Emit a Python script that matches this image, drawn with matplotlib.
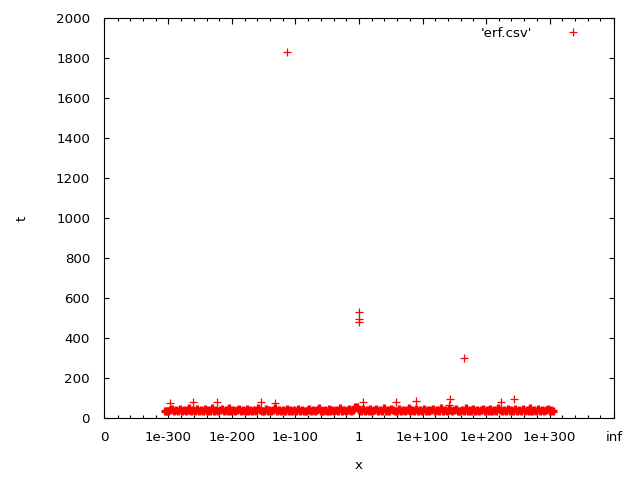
import numpy as np
import matplotlib
matplotlib.use('Agg')
import matplotlib.pyplot as plt
from matplotlib.ticker import FixedLocator

# Ось x: десятичный порядок числа (1 -> 0), края - 0 и inf
x_ticks = [-401.5, -300, -200, -100, 0, 100, 200, 300, 401.5]
x_tick_labels = ['0', '1e-300', '1e-200', '1e-100', '1', '1e+100', '1e+200', '1e+300', 'inf']
y_ticks = [0, 200, 400, 600, 800, 1000, 1200, 1400, 1600, 1800, 2000]

# Плотная полоса измерений: порядки от -306 до 306 с шагом 3
band_start = -306
band_step = 3
band_t = [
    33, 36,
    33, 38, 45, 34, 38, 33, 47, 36, 39, 33, 38, 50, 34, 38, 33, 44, 36, 39, 33, 46,
    34, 38, 33, 48, 36, 39, 33, 38, 45, 34, 38, 33, 51, 36, 39, 33, 38, 44, 34, 38,
    33, 46, 36, 39, 33, 38, 34, 49, 38, 33, 36, 44, 33, 38, 34, 38, 52, 36, 39, 33,
    38, 34, 45, 33, 38, 36, 39, 33, 47, 34, 38, 33, 36, 39, 44, 33, 38, 34, 38, 48,
    33, 36, 39, 33, 45, 34, 38, 33, 38, 36, 50, 33, 38, 34, 38, 46, 36, 39, 53, 57,
    38, 33, 45, 36, 39, 33, 47, 34, 38, 44, 33, 38, 36, 48, 33, 38, 34, 45, 38, 33,
    36, 46, 33, 38, 34, 38, 51, 36, 39, 33, 44, 34, 38, 33, 47, 36, 39, 33, 38, 45,
    34, 38, 33, 48, 36, 39, 33, 44, 38, 34, 38, 46, 33, 36, 39, 33, 50, 34, 38, 33,
    45, 36, 39, 33, 38, 47, 34, 38, 33, 44, 36, 39, 33, 49, 38, 34, 38, 33, 45, 36,
    39, 33, 46, 34, 38, 33, 44, 36, 39, 33, 48, 34, 38, 33, 45, 36, 39, 33, 38, 44,
    36, 38, 34,
]
band_x = band_start + band_step * np.arange(len(band_t))

# Отдельные выбросы
out_x = [-298, -262, -224, -154, -132, 6, 58, 89, 141, 143, 224, 244, -113, 0, 0, 0, 165]
out_t = [73, 78, 78, 78, 73, 78, 78, 85, 65, 95, 78, 95, 1830, 528, 493, 481, 300]

plt.rcParams['font.family'] = ['DejaVu Sans']
fs = 9.6

fig = plt.figure(figsize=(6.4, 4.8), dpi=100)
ax = fig.add_axes([104 / 640, 1 - 418 / 480, 510 / 640, 400 / 480])

ax.plot(band_x, band_t, '+', color='#ff0000', ms=5.2, mew=2.4, ls='none')
ax.plot(out_x, out_t, '+', color='#ff0000', ms=5.2, mew=0.9, ls='none', label="'erf.csv'")

ax.set_xlim(-401.5, 401.5)
ax.set_ylim(0, 2000)
ax.set_xticks(x_ticks)
ax.set_xticklabels(x_tick_labels)
ax.xaxis.set_minor_locator(FixedLocator([v for v in range(-380, 400, 20) if v % 100 != 0]))
ax.set_yticks(y_ticks)

ax.tick_params(which='both', direction='in', top=True, right=True, labelsize=fs,
               color='black', width=0.8)
ax.tick_params(axis='x', which='major', length=4.3, pad=9.2)
ax.tick_params(axis='x', which='minor', length=2.2)
ax.tick_params(axis='y', which='major', length=3.3, pad=10)
for s in ax.spines.values():
    s.set_linewidth(0.8)

ax.set_xlabel('x', fontsize=fs, va='center')
ax.xaxis.set_label_coords(0.5, (418 - 465.5) / 400)
ax.set_ylabel('t', fontsize=fs, va='center')
ax.yaxis.set_label_coords((22 - 104) / 510, 0.5)

ax.legend(loc='upper right', bbox_to_anchor=(0.961, 0.978), markerfirst=False,
          frameon=False, borderaxespad=0, borderpad=0, handlelength=3.2,
          handletextpad=1.45, fontsize=fs, numpoints=1)

plt.savefig('out.png', dpi=100)
